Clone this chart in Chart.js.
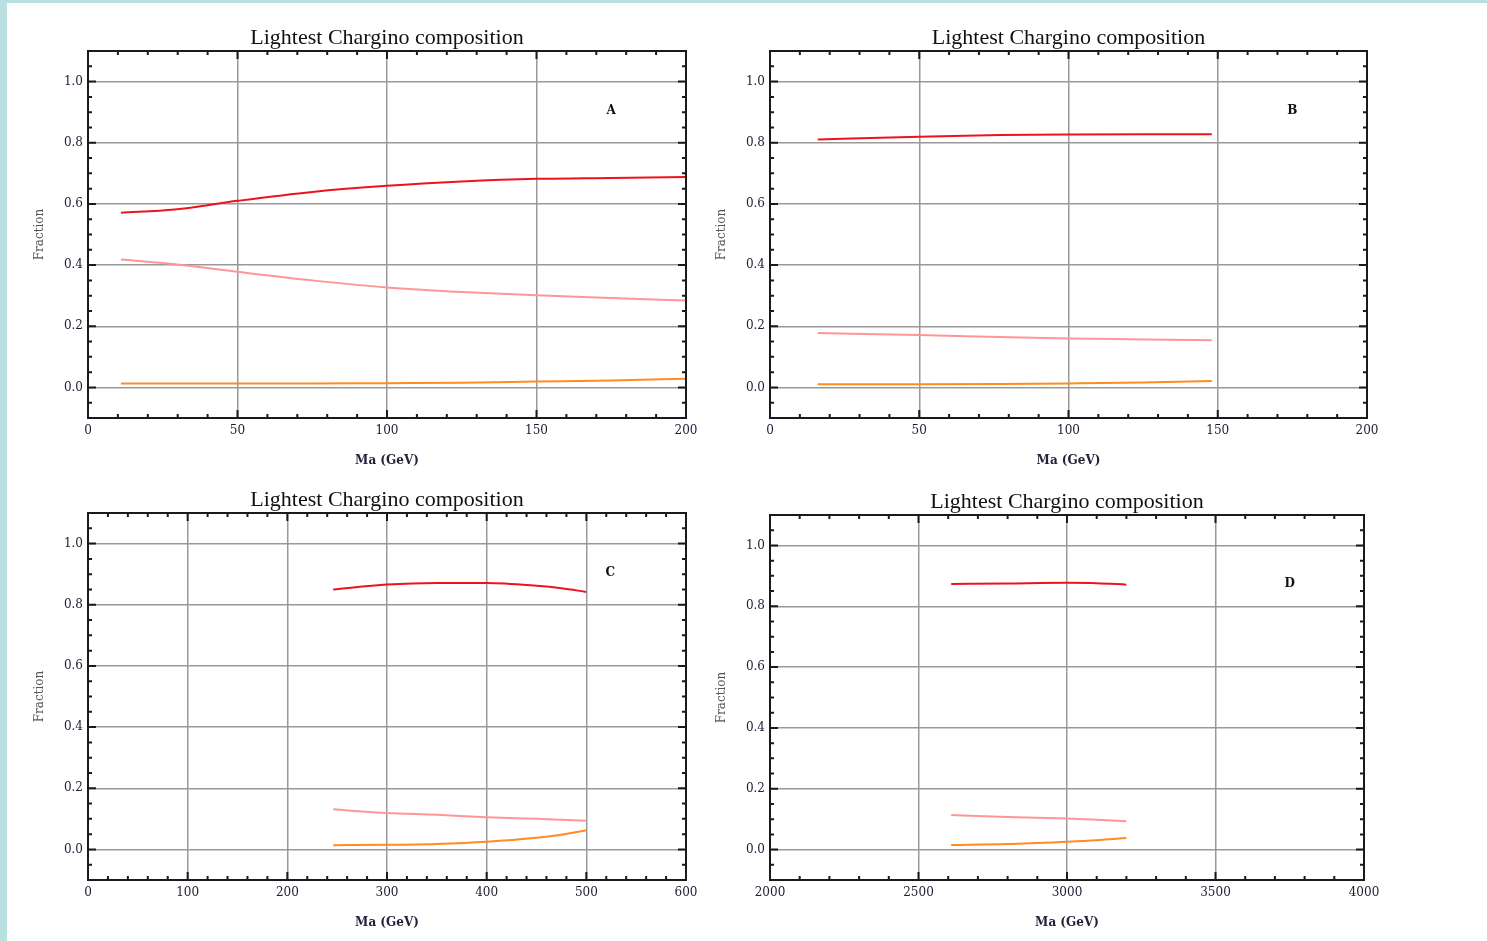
<!DOCTYPE html>
<html>
<head>
<meta charset="utf-8">
<script src="https://cdn.jsdelivr.net/npm/chart.js@4.4.0/dist/chart.umd.min.js"></script>
<style>
  html, body { margin: 0; padding: 0; background: #b9dfe1; overflow: hidden; }
  #page { position: absolute; left: 7px; top: 3px; width: 1480px; height: 938px; background: #fff; }
  canvas { position: absolute; }
</style>
</head>
<body>
<div id="page"></div>
<canvas id="chartA" width="694" height="458" style="left:10px;top:10px"></canvas>
<canvas id="chartB" width="693" height="458" style="left:692px;top:10px"></canvas>
<canvas id="chartC" width="694" height="458" style="left:10px;top:472px"></canvas>
<canvas id="chartD" width="690" height="456" style="left:692px;top:474px"></canvas>
<script>
// títulos e eixos
const titleText = 'Lightest Chargino composition';
const xTitle = 'Ma (GeV)';
const yTitle = 'Fraction';
const yTicks = [0, 0.2, 0.4, 0.6, 0.8, 1.0];

// painel A
const maA = [11, 29, 50, 75, 100, 125, 150, 175, 200];
const redA = [0.571, 0.582, 0.610, 0.639, 0.659, 0.673, 0.682, 0.685, 0.688];
const pinkA = [0.418, 0.403, 0.378, 0.350, 0.327, 0.312, 0.301, 0.292, 0.284];
const orangeA = [0.013, 0.013, 0.013, 0.013, 0.014, 0.015, 0.019, 0.023, 0.028];
const xTicksA = [0, 50, 100, 150, 200];

// painel B
const maB = [16, 50, 77, 100, 125, 148];
const redB = [0.811, 0.820, 0.825, 0.827, 0.828, 0.828];
const pinkB = [0.178, 0.171, 0.165, 0.160, 0.157, 0.154];
const orangeB = [0.010, 0.010, 0.011, 0.013, 0.016, 0.021];
const xTicksB = [0, 50, 100, 150, 200];

// painel C
const maC = [246, 300, 350, 400, 450, 475, 500];
const redC = [0.850, 0.866, 0.871, 0.871, 0.862, 0.854, 0.842];
const pinkC = [0.131, 0.119, 0.113, 0.105, 0.100, 0.097, 0.094];
const orangeC = [0.014, 0.015, 0.018, 0.025, 0.038, 0.048, 0.063];
const xTicksC = [0, 100, 200, 300, 400, 500, 600];

// painel D
const maD = [2610, 2800, 3000, 3100, 3200];
const redD = [0.873, 0.875, 0.877, 0.876, 0.871];
const pinkD = [0.114, 0.107, 0.102, 0.098, 0.093];
const orangeD = [0.015, 0.018, 0.026, 0.031, 0.038];
const xTicksD = [2000, 2500, 3000, 3500, 4000];

// letras de cada painel (posição em coordenadas dos dados)
const letters = ['A', 'B', 'C', 'D'];
const letterX = [175, 175, 524, 3750];
const letterY = [0.905, 0.905, 0.905, 0.873];

const tickFont = { family: '"DejaVu Serif"', size: 12 };
const tickColor = '#1c1c34';

// moldura preta com marcas maiores e menores para dentro
const framePlugin = {
  id: 'frame',
  afterDraw(chart, args, opts) {
    const { ctx, chartArea: a, scales: { x, y } } = chart;
    ctx.save();
    ctx.strokeStyle = '#1a1a1a';
    ctx.lineWidth = 2;
    ctx.beginPath();
    const nx = Math.round((x.max - x.min) / opts.xMinor);
    for (let i = 0; i <= nx; i++) {
      const v = x.min + i * opts.xMinor;
      const px = x.getPixelForValue(v);
      const len = (i % opts.xPer === 0) ? 8 : 4;
      ctx.moveTo(px, a.bottom); ctx.lineTo(px, a.bottom - len);
      ctx.moveTo(px, a.top); ctx.lineTo(px, a.top + len);
    }
    const ny = Math.round((y.max - y.min) / 0.05);
    for (let i = 0; i <= ny; i++) {
      const v = y.min + i * 0.05;
      const py = y.getPixelForValue(v);
      const len = ((i - 2) % 4 === 0) ? 8 : 4;
      ctx.moveTo(a.left, py); ctx.lineTo(a.left + len, py);
      ctx.moveTo(a.right, py); ctx.lineTo(a.right - len, py);
    }
    ctx.stroke();
    ctx.strokeRect(a.left, a.top, a.right - a.left, a.bottom - a.top);
    ctx.fillStyle = '#111';
    ctx.font = 'bold 12px "DejaVu Serif"';
    ctx.textAlign = 'center';
    ctx.textBaseline = 'middle';
    ctx.fillText(opts.letter, x.getPixelForValue(opts.lx), y.getPixelForValue(opts.ly));
    ctx.restore();
  }
};

function makePanel(id, ma, red, pink, orange, xTicks, xMinor, xPer, idx) {
  const pts = (vals) => ma.map((m, i) => ({ x: m, y: vals[i] }));
  const line = (vals, color) => ({
    data: pts(vals),
    borderColor: color,
    borderWidth: 2,
    pointRadius: 0,
    cubicInterpolationMode: 'monotone',
    fill: false
  });
  return new Chart(document.getElementById(id), {
    type: 'line',
    data: {
      datasets: [
        line(orange, 'rgb(255,140,30)'),
        line(pink, 'rgb(255,150,150)'),
        line(red, 'rgb(236,20,28)')
      ]
    },
    options: {
      responsive: false,
      animation: false,
      layout: { padding: { left: 0, right: 18, top: 0, bottom: 0 } },
      plugins: {
        legend: { display: false },
        tooltip: { enabled: false },
        title: {
          display: true,
          text: titleText,
          fullSize: false,
          color: '#111',
          font: { family: '"Liberation Serif"', size: 22, weight: 'normal' },
          padding: { top: 14.6, bottom: 0 }
        },
        frame: { xMinor: xMinor, xPer: xPer, letter: letters[idx], lx: letterX[idx], ly: letterY[idx] }
      },
      scales: {
        x: {
          type: 'linear',
          min: xTicks[0],
          max: xTicks[xTicks.length - 1],
          afterBuildTicks: (s) => { s.ticks = xTicks.map(v => ({ value: v })); },
          afterFit: (s) => { s.height = 50; s.paddingLeft = 0; s.paddingRight = 0; },
          border: { display: false },
          grid: { color: '#999', lineWidth: 1.5, drawTicks: false },
          ticks: { font: tickFont, color: tickColor, padding: 6, maxRotation: 0, autoSkip: false, callback: (v) => String(v) },
          title: {
            display: true, text: xTitle, color: '#22223a',
            font: { family: '"DejaVu Serif"', size: 12, weight: 'bold' },
            padding: { top: 0, bottom: 0 }
          }
        },
        y: {
          min: -0.1,
          max: 1.1,
          afterBuildTicks: (s) => { s.ticks = yTicks.map(v => ({ value: v })); },
          afterFit: (s) => { s.width = 78; s.paddingTop = 0; s.paddingBottom = 0; },
          border: { display: false },
          grid: { color: '#999', lineWidth: 1.5, drawTicks: false },
          ticks: { font: tickFont, color: tickColor, padding: 5, callback: (v) => v.toFixed(1) },
          title: {
            display: true, text: yTitle, color: '#555',
            font: { family: '"DejaVu Serif"', size: 12 },
            padding: { top: 23, bottom: 0 }
          }
        }
      }
    },
    plugins: [framePlugin]
  });
}

makePanel('chartA', maA, redA, pinkA, orangeA, xTicksA, 10, 5, 0);
makePanel('chartB', maB, redB, pinkB, orangeB, xTicksB, 10, 5, 1);
makePanel('chartC', maC, redC, pinkC, orangeC, xTicksC, 20, 5, 2);
makePanel('chartD', maD, redD, pinkD, orangeD, xTicksD, 100, 5, 3);
</script>
</body>
</html>
